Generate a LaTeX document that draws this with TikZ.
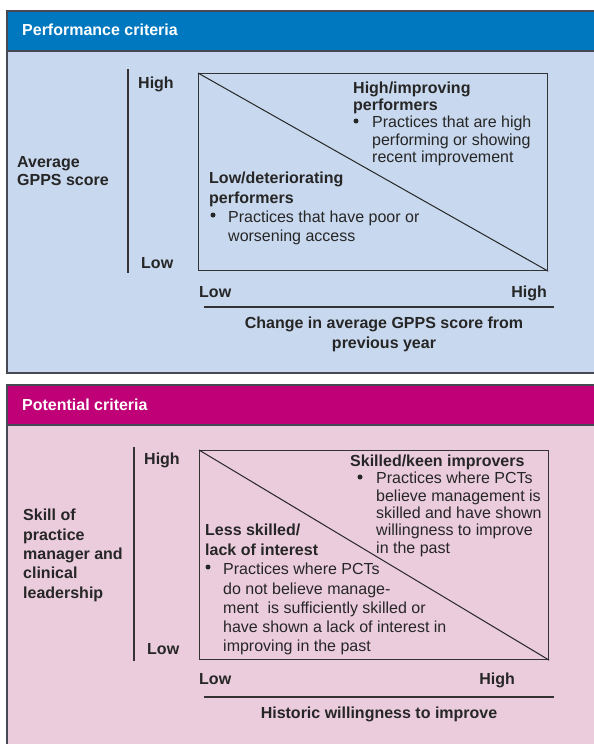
\documentclass[tikz,border=0pt]{standalone}
\usepackage{fontspec}
\setmainfont{Liberation Sans}
\definecolor{perfblue}{RGB}{0,120,192}
\definecolor{perfbg}{RGB}{200,216,238}
\definecolor{potmag}{RGB}{192,0,118}
\definecolor{potbg}{RGB}{235,204,221}
\definecolor{edgegray}{RGB}{70,72,84}
\usetikzlibrary{positioning}

\begin{document}
\begin{tikzpicture}[x=1pt,y=-1pt,
  hdr/.style={anchor=base west,inner sep=0pt,text=white,font=\fontsize{16}{18}\selectfont\bfseries},
  lbl/.style={inner sep=0pt,text=black!85,font=\fontsize{16}{18}\selectfont\bfseries},
  side/.style={anchor=north west,inner sep=0pt,align=left,text=black!85,font=\fontsize{16}{19.3}\selectfont\bfseries},
  quad/.style={anchor=north west,inner sep=0pt,align=left,text=black!85,font=\fontsize{16}{20}\selectfont\bfseries},
  note/.style={anchor=north west,inner sep=0pt,align=left,text=black!85,font=\fontsize{16}{17.5}\selectfont},
  dot/.style={circle,fill=black!85,inner sep=0pt,minimum size=5pt},
  quadbox/.style={draw=black!80,line width=1.2pt,inner sep=0pt,anchor=north west},
  axis/.style={line width=1.2pt,black!80}
]
  \useasboundingbox (0,0) rectangle (594,744);
  % Performance panel
  \fill[perfbg] (7,11) rectangle (600,373);
  \fill[perfblue] (7,11) rectangle (600,51);
  \draw[edgegray,line width=1.3pt] (600,11) -- (7,11) -- (7,373) -- (600,373);
  \draw[edgegray,line width=1.3pt] (7,51) -- (600,51);
  \node[hdr] (h1) at (22,35.5) {Performance criteria};

  \coordinate (v1t) at (128,69);
  \coordinate (v1b) at (128,273);
  \draw[axis] (v1t) -- (v1b);
  \node[lbl,anchor=base west] (y1hi) at (138,88.5) {High};
  \node[lbl,anchor=base west] (y1lo) at (141,268.5) {Low};
  \node[side,font=\fontsize{16}{18}\selectfont\bfseries] (y1name) at (17,156) {Average\\GPPS score};

  \node[quadbox,minimum width=349pt,minimum height=197pt] (q1) at (198,73) {};
  \draw[line width=1pt,black!85] (q1.north west) -- (q1.south east);
  \node[quad,font=\fontsize{16}{17}\selectfont\bfseries] (q1hi) at (353,82) {High/improving\\performers};
  \node[note] (q1hitxt) at (372,116) {Practices that are high\\performing or showing\\recent improvement};
  \node[dot] (q1hidot) at (356,121) {};
  \node[quad] (q1lo) at (209,172) {Low/deteriorating\\performers};
  \node[note,font=\fontsize{16}{19}\selectfont] (q1lotxt) at (228,211) {Practices that have poor or\\worsening access};
  \node[dot] (q1lodot) at (213,215) {};

  \node[lbl,anchor=base west] (x1lo) at (199,297.5) {Low};
  \node[lbl,anchor=base east] (x1hi) at (547,297.5) {High};
  \coordinate (h1l) at (204,307);
  \coordinate (h1r) at (554,307);
  \draw[axis] (h1l) -- (h1r);
  \node[quad,anchor=north,align=center] (x1name) at (384,317) {Change in average GPPS score from\\previous year};

  % Potential panel
  \fill[potbg] (7,385) rectangle (600,750);
  \fill[potmag] (7,385) rectangle (600,425);
  \draw[edgegray,line width=1.3pt] (600,385) -- (7,385) -- (7,750);
  \draw[edgegray,line width=1.3pt] (7,425) -- (600,425);
  \node[hdr] (h2) at (22,410.5) {Potential criteria};

  \coordinate (v2t) at (134,447);
  \coordinate (v2b) at (134,661);
  \draw[axis] (v2t) -- (v2b);
  \node[lbl,anchor=base west] (y2hi) at (144,464.5) {High};
  \node[lbl,anchor=base west] (y2lo) at (147,654.5) {Low};
  \node[side] (y2name) at (23,509) {Skill of\\practice\\manager and\\clinical\\leadership};

  \node[quadbox,minimum width=349pt,minimum height=209pt] (q2) at (199,450) {};
  \draw[line width=1pt,black!85] (q2.north west) -- (q2.south east);
  \node[quad] (q2hi) at (350,455) {Skilled/keen improvers};
  \node[note,font=\fontsize{16}{17.3}\selectfont] (q2hitxt) at (376,472) {Practices where PCTs\\believe management is\\skilled and have shown\\willingness to improve\\in the past};
  \node[dot] (q2hidot) at (360,477) {};
  \node[quad] (q2lo) at (205,524) {Less skilled/\\lack of interest};
  \node[note,font=\fontsize{16}{19.2}\selectfont] (q2lotxt) at (223,563) {Practices where PCTs\\do not believe manage-\\ment\ \ is sufficiently skilled or\\have shown a lack of interest in\\improving in the past};
  \node[dot] (q2lodot) at (208,567) {};

  \node[lbl,anchor=base west] (x2lo) at (199,684.5) {Low};
  \node[lbl,anchor=base east] (x2hi) at (515,684.5) {High};
  \coordinate (h2l) at (204,697);
  \coordinate (h2r) at (554,697);
  \draw[axis] (h2l) -- (h2r);
  \node[lbl,anchor=base] (x2name) at (379,718.5) {Historic willingness to improve};
\end{tikzpicture}
\end{document}
